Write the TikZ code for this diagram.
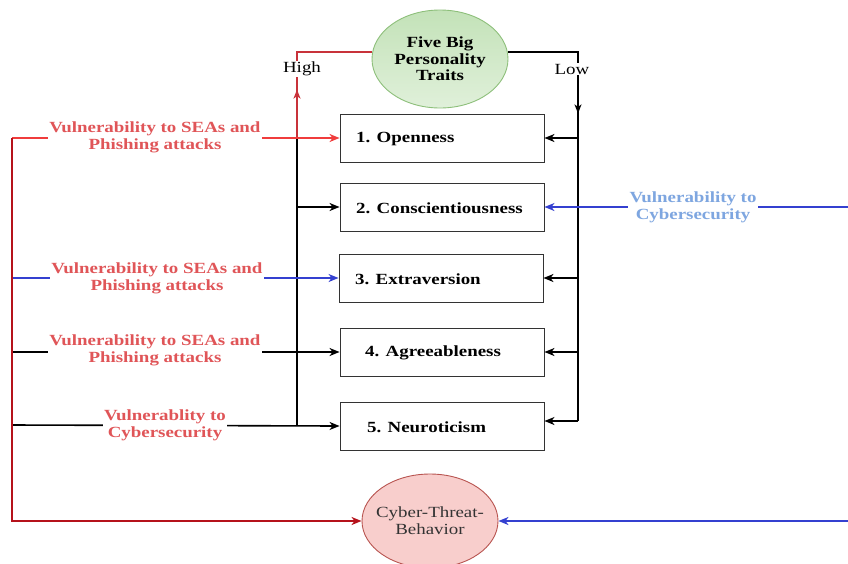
\documentclass[tikz,border=0pt]{standalone}
\usepackage{fontspec}
\setmainfont{Liberation Serif}[FakeStretch=1.22]
\usetikzlibrary{arrows.meta,shapes.geometric,decorations.markings}

\definecolor{labred}{HTML}{E05558}
\definecolor{lblue}{HTML}{7EA6E0}
\definecolor{lineblue}{HTML}{3440D0}
\definecolor{openred}{HTML}{F03C3C}
\definecolor{darkred}{HTML}{B5121B}
\definecolor{highred}{HTML}{C8323A}
\definecolor{greenedge}{HTML}{8DBF7A}
\definecolor{greentop}{HTML}{C3E2B8}
\definecolor{greenbot}{HTML}{E0F0DA}
\definecolor{pinkfill}{HTML}{F8CECC}
\definecolor{pinkedge}{HTML}{B85450}

\begin{document}
\begin{tikzpicture}[x=1pt,y=-1pt,
  trait/.style={draw=black!80, line width=0.9pt, minimum width=204pt,
    minimum height=48pt, inner sep=0pt},
  boxtext/.style={font=\fontsize{15.5}{17}\selectfont\bfseries,
    anchor=west, inner sep=0pt},
  vlabel/.style={font=\fontsize{15.5}{17}\selectfont\bfseries,
    text=labred, fill=white, align=center, inner xsep=1.5pt, inner ysep=1pt},
  hilo/.style={font=\fontsize{15.5}{17}\selectfont, fill=white,
    inner xsep=0.5pt, inner ysep=1pt},
  tip/.style={-{Stealth[length=10pt,width=8pt,inset=3pt]}},
  midtip/.style={postaction={decorate}, decoration={markings,
    mark=at position #1 with {\arrow{Stealth[length=9pt,width=7pt,inset=2.5pt]}}}},
  trunk/.style={line width=2.2pt},
  branch/.style={line width=1.6pt},
]
\useasboundingbox (0,0) rectangle (848,563);

% central trait and outcome ellipses
\node[ellipse, draw=greenedge, line width=0.9pt, top color=greentop,
  bottom color=greenbot, minimum width=136pt, minimum height=98pt,
  inner sep=0pt] (traits) at (440,59) {};
\node[align=center, font=\fontsize{15.5}{16.5}\selectfont\bfseries]
  at (traits.center) {Five Big\\Personality\\Traits};
\node[ellipse, draw=pinkedge, fill=pinkfill, line width=0.9pt,
  minimum width=136pt, minimum height=94pt, inner sep=0pt] (ctb) at (430,521) {};
\node[align=center, text=black!80, font=\fontsize{15.5}{17}\selectfont]
  at (ctb.center) {Cyber-Threat-\\Behavior};

% the five trait boxes
\node[trait] (o1) at (442,138) {};
\node[trait] (o2) at (442,207) {};
\node[trait] (o3) at (441,278) {};
\node[trait] (o4) at (442,352) {};
\node[trait] (o5) at (442,426) {};
\node[boxtext] at (356,139) {1. Openness};
\node[boxtext] at (356,208) {2. Conscientiousness};
\node[boxtext] at (355,279) {3. Extraversion};
\node[boxtext] at (365,353) {4. Agreeableness};
\node[boxtext] at (367,427) {5. Neuroticism};

% junction points
\coordinate (L1) at (12,138);
\coordinate (L3) at (12,278);
\coordinate (L4) at (12,352);
\coordinate (L5) at (12,425);
\coordinate (H0) at (297,138);
\coordinate (H2) at (297,207);
\coordinate (H5) at (297,425);
\coordinate (R1) at (578,138);
\coordinate (R3) at (578,278);
\coordinate (R4) at (578,352);
\coordinate (R5) at (578,421);
\coordinate (E2) at (848,207);
\coordinate (E6) at (848,521);

% high branch (left trunk)
\draw[highred, line width=1.8pt, midtip=0.30] (H0) |- (traits.174);
\draw[trunk] (H0) -- (H5);
\draw[branch, tip] (H2) -- (o2.west);

% low branch (right trunk)
\draw[trunk, midtip=0.30] (traits.6) -| (R5);
\draw[branch, tip] (R1) -- (o1.east);
\draw[branch, tip] (R3) -- (o3.east);
\draw[branch, tip] (R4) -- (o4.east);
\draw[branch, tip] (R5) -- (R5 -| o5.east);

% incoming links from the left
\draw[openred, branch, tip] (L1) -- (o1.west);
\draw[lineblue, line width=1.4pt, tip] (L3) -- (o3.west);
\draw[branch, tip] (L4) -- (o4.west);
\draw[branch, tip] (L5) -- (o5.west);
\draw[darkred, line width=2.4pt, tip] (L1) |- (ctb.west);

% incoming links from the right
\draw[lineblue, line width=1.4pt, tip] (E2) -- (o2.east);
\draw[lineblue, line width=2pt, tip] (E6) -- (ctb.east);

% link labels
\node[vlabel] at (155,137) {Vulnerability to SEAs and\\Phishing attacks};
\node[vlabel] at (157,278) {Vulnerability to SEAs and\\Phishing attacks};
\node[vlabel] at (155,350) {Vulnerability to SEAs and\\Phishing attacks};
\node[vlabel] at (165,425) {Vulnerablity to\\Cybersecurity};
\node[vlabel, text=lblue] at (693,207) {Vulnerability to\\Cybersecurity};
\node[hilo] at (302,69) {High};
\node[hilo] at (572,69) {Low};
\end{tikzpicture}
\end{document}
